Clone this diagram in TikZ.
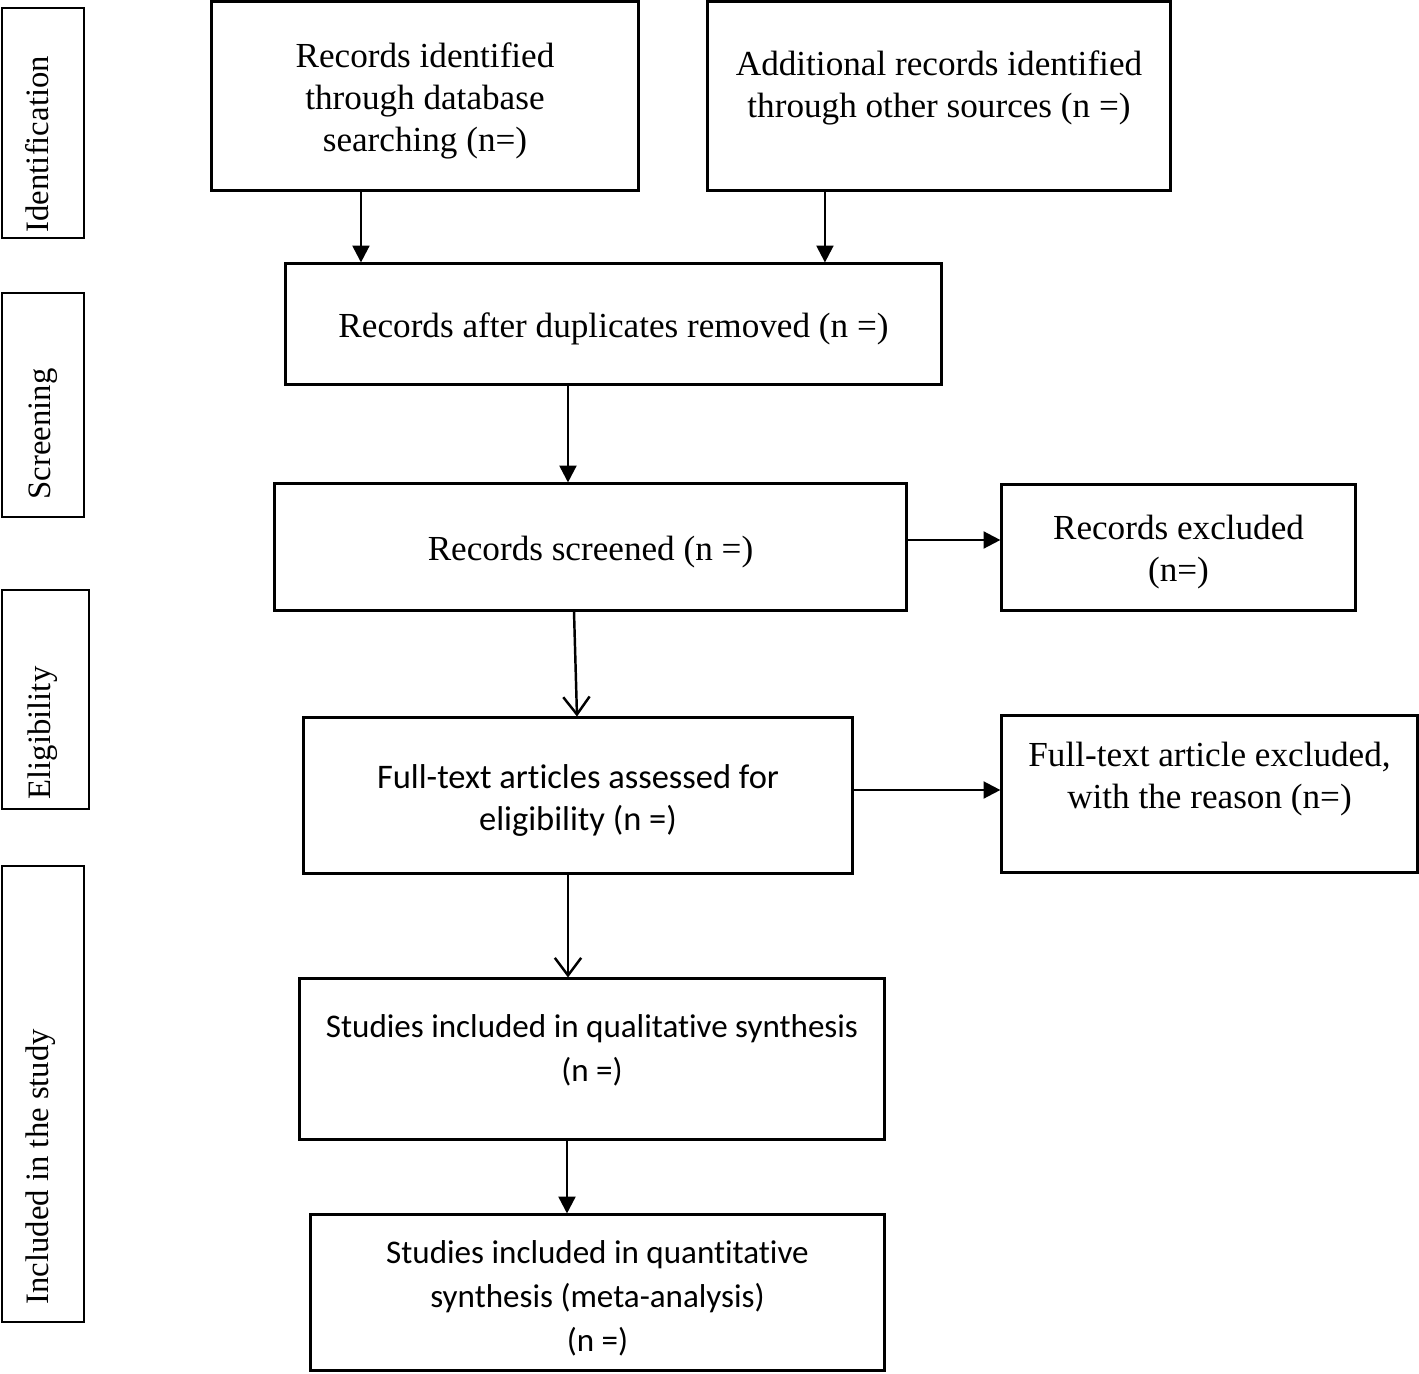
\documentclass[tikz,border=0pt]{standalone}
\usepackage{fontspec}
\setmainfont{Liberation Serif}
\newfontfamily\calibri[Ligatures=NoCommon]{Carlito}
\usetikzlibrary{arrows.meta}
\newcommand{\lift}{\rule{0pt}{9.7pt}}

\begin{document}
\begin{tikzpicture}[x=0.01cm, y=-0.01cm,
  stage/.style={draw, line width=0.85pt, align=center, inner sep=2pt, font=\fontsize{10}{12}\selectfont},
  sansstage/.style={stage, font=\calibri\fontsize{9.8}{12}\selectfont},
  sanssmall/.style={stage, font=\calibri\fontsize{9.4}{12.5}\selectfont},
  phase/.style={draw, line width=0.6pt},
  phasetext/.style={rotate=90, anchor=base west, inner sep=0pt, font=\fontsize{9.3}{11}\selectfont},
  plain/.style={align=center, inner sep=0pt},
  fillarrow/.style={-{Triangle[length=4.8pt, width=4.8pt]}, line width=0.7pt},
  openarrow/.style={-{Straight Barb[length=5pt, width=7.5pt]}, line width=0.7pt}]
\useasboundingbox (0,0) rectangle (1419,1373);

% Phases down the left side
\node[phase, minimum width=0.82cm, minimum height=2.30cm] (ident) at (43,123) {};
\node[phasetext] (identtext) at (48,233) {Identification};
\node[phase, minimum width=0.82cm, minimum height=2.24cm] (screen) at (43,405) {};
\node[phasetext] (screentext) at (50,500) {Screening};
\node[phase, minimum width=0.87cm, minimum height=2.19cm] (elig) at (45.5,699.5) {};
\node[phasetext] (eligtext) at (51,800) {Eligibility};
\node[phase, minimum width=0.82cm, minimum height=4.56cm] (incl) at (43,1094) {};
\node[phasetext] (incltext) at (48,1305) {Included in the study};

% Identification
\node[stage, minimum width=4.26cm, minimum height=1.88cm] (dbrec) at (425,96)
  {\lift Records identified\\through database\\searching (n=)};
\node[stage, minimum width=4.62cm, minimum height=1.88cm] (otherrec) at (939,96) {};
\node[plain, font=\fontsize{10}{12}\selectfont] (othertext) at (939,88)
  {Additional records identified\\through other sources (n =)};

% Screening
\node[stage, minimum width=6.55cm, minimum height=1.20cm] (dedup) at (613.5,324)
  {\lift Records after duplicates removed (n =)};
\node[stage, minimum width=6.31cm, minimum height=1.26cm] (screened) at (590.5,547)
  {\lift Records screened (n =)};
\node[stage, minimum width=3.53cm, minimum height=1.25cm] (excl) at (1178.5,547.5)
  {\lift Records excluded\\(n=)};

% Eligibility
\node[sansstage, minimum width=5.48cm, minimum height=1.55cm] (fulltext) at (578,795.5)
  {\lift Full-text articles assessed for\\eligibility (n =)};
\node[stage, minimum width=4.15cm, minimum height=1.56cm] (ftexcl) at (1209.5,794) {};
\node[plain, font=\fontsize{10}{12}\selectfont] (ftexcltext) at (1209.5,779)
  {Full-text article excluded,\\with the reason (n=)};

% Included
\node[sanssmall, minimum width=5.84cm, minimum height=1.60cm] (qual) at (592,1059) {};
\node[plain, font=\calibri\fontsize{9.4}{12.6}\selectfont] (qualtext) at (592,1050.5)
  {Studies included in qualitative synthesis\\(n =)};
\node[sanssmall, minimum width=5.73cm, minimum height=1.55cm] (quant) at (597.5,1292.5)
  {\lift Studies included in quantitative\\synthesis (meta-analysis)\\(n =)};

% Connectors
\draw[fillarrow] ([xshift=-0.64cm]dbrec.south) -- ([xshift=-0.64cm]dbrec.south |- dedup.north);
\draw[fillarrow] ([xshift=-1.14cm]otherrec.south) -- ([xshift=-1.14cm]otherrec.south |- dedup.north);
\draw[fillarrow] ([xshift=-0.455cm]dedup.south) -- ([xshift=-0.455cm]dedup.south |- screened.north);
\draw[fillarrow] ([yshift=0.07cm]screened.east) -- ([yshift=0.07cm]screened.east -| excl.west);
\draw[openarrow] ([xshift=-0.165cm]screened.south) -- ([xshift=-0.01cm]fulltext.north);
\draw[fillarrow] ([yshift=0.055cm]fulltext.east) -- ([yshift=0.055cm]fulltext.east -| ftexcl.west);
\draw[openarrow] ([xshift=-0.10cm]fulltext.south) -- ([xshift=-0.10cm]fulltext.south |- qual.north);
\draw[fillarrow] ([xshift=-0.25cm]qual.south) -- ([xshift=-0.25cm]qual.south |- quant.north);
\end{tikzpicture}
\end{document}
